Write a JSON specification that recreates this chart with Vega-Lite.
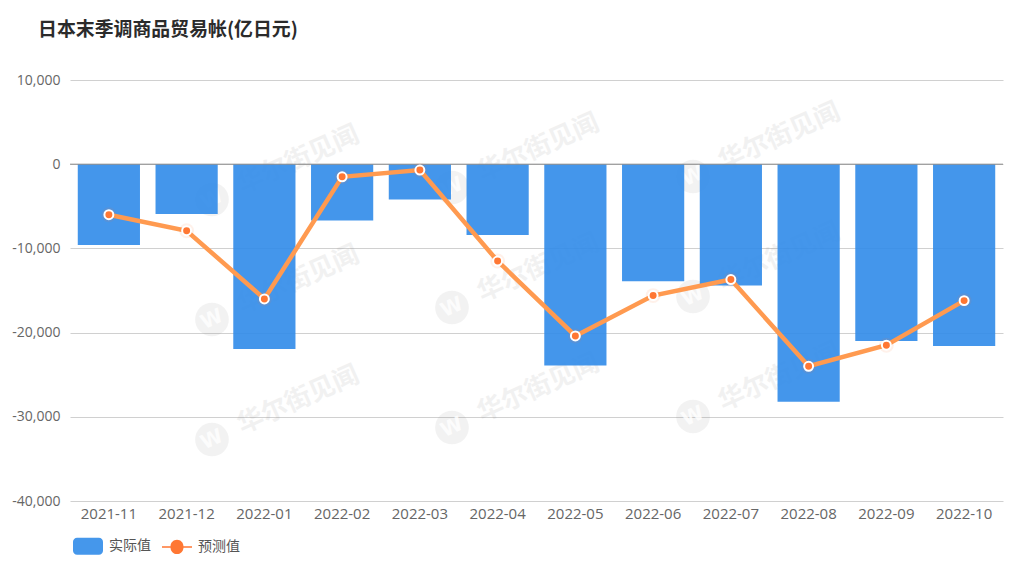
{
  "$schema": "https://vega.github.io/schema/vega-lite/v6.json",
  "description": "日本末季调商品贸易帐",
  "width": 933,
  "height": 421,
  "autosize": "none",
  "padding": {"left": 70, "top": 80, "right": 21, "bottom": 67},
  "background": "white",
  "title": {
    "text": "日本末季调商品贸易帐(亿日元)",
    "anchor": "start",
    "frame": "group",
    "dx": -32,
    "offset": 33,
    "font": "Noto Sans CJK SC",
    "fontSize": 18.9,
    "fontWeight": "bold",
    "color": "#2b2b2b"
  },
  "config": {
    "font": "Open Sans",
    "view": {"stroke": null}
  },
  "datasets": {
    "trade": [
      {"month": "2021-11", "actual": -9600, "forecast": -6000},
      {"month": "2021-12", "actual": -5900, "forecast": -7900},
      {"month": "2022-01", "actual": -21950, "forecast": -16000},
      {"month": "2022-02", "actual": -6700, "forecast": -1500},
      {"month": "2022-03", "actual": -4200, "forecast": -700},
      {"month": "2022-04", "actual": -8400, "forecast": -11500},
      {"month": "2022-05", "actual": -23900, "forecast": -20400},
      {"month": "2022-06", "actual": -13900, "forecast": -15600},
      {"month": "2022-07", "actual": -14400, "forecast": -13700},
      {"month": "2022-08", "actual": -28200, "forecast": -24000},
      {"month": "2022-09", "actual": -21000, "forecast": -21500},
      {"month": "2022-10", "actual": -21600, "forecast": -16200}
    ],
    "stamps": [
      {"pos": 1.826, "level": -4190},
      {"pos": 1.826, "level": -18440},
      {"pos": 1.826, "level": -32700},
      {"pos": 4.913, "level": -2770},
      {"pos": 4.913, "level": -17020},
      {"pos": 4.913, "level": -31270},
      {"pos": 8.013, "level": -1460},
      {"pos": 8.013, "level": -15710},
      {"pos": 8.013, "level": -29960}
    ],
    "series": [
      {"series": "实际值"},
      {"series": "预测值"}
    ]
  },
  "resolve": {"scale": {"x": "independent"}},
  "layer": [
    {
      "data": {"name": "stamps"},
      "encoding": {
        "x": {"field": "pos", "type": "quantitative", "scale": {"domain": [0, 12], "nice": false}, "axis": null},
        "y": {"field": "level", "type": "quantitative", "title": null}
      },
      "layer": [
        {
          "mark": {"type": "point", "shape": "circle", "filled": true, "color": "#888888", "opacity": 0.11, "size": 1134}
        },
        {
          "mark": {"type": "text", "text": "W", "font": "DejaVu Sans", "fontWeight": "bold", "fontSize": 20, "angle": -25, "color": "white", "opacity": 0.8}
        },
        {
          "mark": {"type": "text", "text": "华尔街见闻", "font": "Noto Sans CJK SC", "fontWeight": "bold", "fontSize": 26, "angle": -24, "dx": 95, "dy": -1, "color": "#888888", "opacity": 0.11}
        }
      ]
    },
    {
      "data": {"name": "trade"},
      "encoding": {
        "x": {
          "field": "month",
          "type": "ordinal",
          "scale": {"paddingInner": 0.2, "paddingOuter": 0.1},
          "axis": {
            "title": null,
            "labelAngle": 0,
            "labelFontSize": 15,
            "labelColor": "#666666",
            "labelPadding": 5,
            "ticks": false,
            "domain": false
          }
        }
      },
      "layer": [
        {
          "mark": {"type": "bar", "color": "#308be9", "opacity": 0.9},
          "encoding": {
            "y": {
              "field": "actual",
              "type": "quantitative",
              "scale": {"domain": [-40000, 10000], "nice": false},
              "axis": {
                "title": null,
                "values": [-40000, -30000, -20000, -10000, 0, 10000],
                "labelExpr": "replace(format(datum.value, ',.0f'), '−', '-')",
                "labelFontSize": 14,
                "labelColor": "#666666",
                "labelPadding": 10,
                "ticks": false,
                "domain": false,
                "grid": true,
                "gridColor": "#d0d0d0",
                "gridWidth": 1
              }
            }
          }
        },
        {
          "mark": {"type": "rule", "color": "#8c8c8c", "strokeWidth": 1},
          "data": {"values": [{"zero": 0}]},
          "encoding": {"x": null, "y": {"field": "zero", "type": "quantitative"}}
        },
        {
          "mark": {"type": "line", "color": "#ff9a50", "strokeWidth": 4.5},
          "encoding": {"y": {"field": "forecast", "type": "quantitative"}}
        },
        {
          "mark": {"type": "point", "shape": "circle", "filled": true, "color": "#ff7733", "opacity": 0.1, "size": 220},
          "encoding": {"y": {"field": "forecast", "type": "quantitative"}}
        },
        {
          "mark": {"type": "point", "shape": "circle", "filled": true, "fill": "#ff7733", "stroke": "white", "strokeWidth": 2, "opacity": 1, "size": 80},
          "encoding": {"y": {"field": "forecast", "type": "quantitative"}}
        },
        {
          "data": {"name": "series"},
          "mark": {"type": "point", "filled": true, "size": 0},
          "encoding": {
            "x": null,
            "color": {
              "field": "series",
              "type": "nominal",
              "scale": {"domain": ["实际值", "预测值"], "range": ["#4597eb", "#ff7733"]},
              "legend": {
                "title": null,
                "orient": "none",
                "legendX": 3,
                "legendY": 451,
                "direction": "horizontal",
                "symbolSize": 900,
                "symbolStrokeWidth": 0,
                "symbolOpacity": 1,
                "labelFont": "Noto Sans CJK SC",
                "labelFontSize": 14,
                "labelColor": "#555555",
                "labelOffset": 6,
                "columnPadding": 11
              }
            },
            "shape": {
              "field": "series",
              "type": "nominal",
              "scale": {
                "domain": ["实际值", "预测值"],
                "range": [
                  "M-0.73,-0.567 H0.73 A0.27,0.27 0 0 1 1,-0.297 V0.297 A0.27,0.27 0 0 1 0.73,0.567 H-0.73 A0.27,0.27 0 0 1 -1,0.297 V-0.297 A0.27,0.27 0 0 1 -0.73,-0.567 Z",
                  "M-1,-0.05 H-0.43 A0.43,0.43 0 0 1 0.43,-0.05 H1 V0.05 H0.43 A0.43,0.43 0 0 1 -0.43,0.05 H-1 Z"
                ]
              },
              "legend": {
                "title": null,
                "orient": "none",
                "legendX": 3,
                "legendY": 451,
                "direction": "horizontal",
                "symbolSize": 900,
                "symbolStrokeWidth": 0,
                "symbolOpacity": 1,
                "labelFont": "Noto Sans CJK SC",
                "labelFontSize": 14,
                "labelColor": "#555555",
                "labelOffset": 6,
                "columnPadding": 11
              }
            }
          }
        }
      ]
    }
  ]
}
